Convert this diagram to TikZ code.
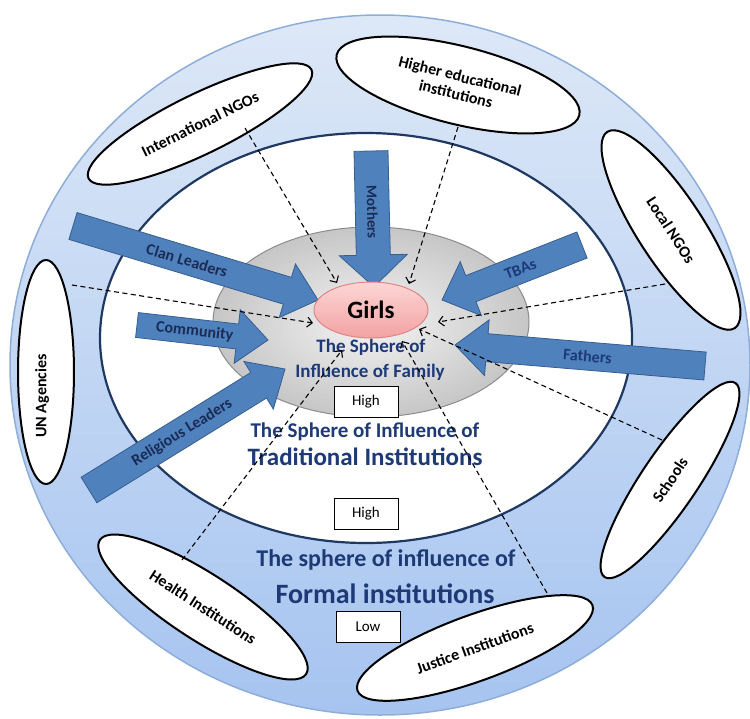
\documentclass[tikz,border=0pt]{standalone}
\usepackage{fontspec}
\setmainfont{Carlito}
\usetikzlibrary{calc,shapes.geometric,arrows.meta}
\definecolor{ringtop}{HTML}{DDE8F7}
\definecolor{ringbot}{HTML}{A6C4F0}
\definecolor{ringline}{HTML}{8FADD9}
\definecolor{tradline}{HTML}{1F3861}
\definecolor{famin}{HTML}{F4F4F4}
\definecolor{famout}{HTML}{C6C6C6}
\definecolor{famline}{HTML}{8C8C8C}
\definecolor{arrfill}{HTML}{4F81BD}
\definecolor{arrline}{HTML}{375E8F}
\definecolor{navy}{HTML}{1D3A76}
\definecolor{darknavy}{HTML}{1A2C55}
\definecolor{girltop}{HTML}{FCD6D6}
\definecolor{girlbot}{HTML}{F3A2A2}
\definecolor{girlline}{HTML}{E08585}
\newcommand\mkarrow[5]{%
  \coordinate (ba-B) at ($(#2)!#5pt!(#1)$);
  \draw[blk] ($(#1)!#3pt!90:(#2)$) -- ($(ba-B)!#3pt!90:(#2)$) -- ($(ba-B)!#4pt!90:(#2)$) -- (#2)
     -- ($(ba-B)!#4pt!-90:(#2)$) -- ($(ba-B)!#3pt!-90:(#2)$) -- ($(#1)!#3pt!-90:(#2)$) -- cycle;}
\tikzset{
  sat/.style={ellipse, draw=black, line width=2pt, fill=white, inner sep=0pt,
    font=\fontsize{16}{18}\selectfont\bfseries, text=black, align=center},
  blk/.style={fill=arrfill, draw=arrline, line width=0.8pt, line join=miter},
  lbl/.style={font=\fontsize{16}{18}\selectfont\bfseries, text=darknavy, inner sep=0pt},
  lblb/.style={font=\fontsize{16}{18}\selectfont\bfseries, text=navy, inner sep=0pt},
  dl/.style={line width=1.1pt, dash pattern=on 5pt off 3.5pt, -{Straight Barb[length=5pt,width=10pt]}},
  hbox/.style={draw=black, line width=1pt, fill=white, minimum width=64pt, minimum height=31pt,
    inner sep=0pt, font=\fontsize{15}{18}\selectfont},
  ctext/.style={text=navy, inner sep=0pt, font=\bfseries}
}
\begin{document}
\begin{tikzpicture}[x=1pt,y=-1pt]
\useasboundingbox (0,0) rectangle (750,718);
% spheres
\node[ellipse, minimum width=740pt, minimum height=700pt, top color=ringtop, bottom color=ringbot,
  draw=ringline, line width=1.5pt] (ring) at (380,365) {};
\node[ellipse, minimum width=532pt, minimum height=410pt, fill=white, draw=tradline, line width=2.2pt] (trad) at (366,338) {};
\node[ellipse, minimum width=316pt, minimum height=190pt, inner color=famin, outer color=famout,
  draw=famline, line width=1pt] (fam) at (371,322) {};
% satellites
\node[sat, minimum width=248pt, minimum height=60pt, rotate=26] (intl) at (200,124) {International NGOs};
\node[sat, minimum width=250pt, minimum height=78pt, rotate=-14] (higher) at (458,85) {Higher educational\\institutions};
\node[sat, minimum width=234pt, minimum height=66pt, rotate=-57] (local) at (671,230) {Local NGOs};
\node[sat, minimum width=224pt, minimum height=56pt, rotate=90] (un) at (46,372) {};
\node[font=\fontsize{16}{18}\selectfont\bfseries, rotate=90, inner sep=0pt] (untext) at (42,396) {UN Agencies};
\node[sat, minimum width=234pt, minimum height=56pt, rotate=56] (schools) at (670,480) {Schools};
\node[sat, minimum width=250pt, minimum height=66pt, rotate=20] (justice) at (475,648) {Justice Institutions};
\node[sat, minimum width=246pt, minimum height=66pt, rotate=-33] (health) at (203,607) {Health Institutions};
% centre texts
\node[ctext, font=\fontsize{19}{22}\selectfont\bfseries] (fam1) at (371,347) {The Sphere of};
\node[ctext, font=\fontsize{19}{22}\selectfont\bfseries] (fam2) at (370,372) {Influence of Family};
\node[hbox] (high1) at (366,402) {High};
\node[ctext, font=\fontsize{21}{24}\selectfont\bfseries] (trad1) at (365,432) {The Sphere of Influence of};
\node[ctext, font=\fontsize{25}{28}\selectfont\bfseries] (trad2) at (365,457) {Traditional Institutions};
\node[hbox] (high2) at (366,514) {High};
\node[ctext, font=\fontsize{24}{27}\selectfont\bfseries] (form1) at (386,560) {The sphere of influence of};
\node[ctext, font=\fontsize{28}{31}\selectfont\bfseries] (form2) at (385,594) {Formal institutions};
\node[hbox] (low) at (368,627) {Low};
% block arrows
\coordinate (mT) at (371,151); \coordinate (mP) at (374,287);
\coordinate (cT) at (73,226);  \coordinate (cP) at (318,300);
\coordinate (kT) at (137,325); \coordinate (kP) at (268,340);
\coordinate (rT) at (89,490);  \coordinate (rP) at (285,369);
\coordinate (tT) at (582,245); \coordinate (tP) at (442,300);
\coordinate (fT) at (705,366); \coordinate (fP) at (455,345);
\mkarrow{mT}{mP}{17}{34}{32}
\mkarrow{cT}{cP}{14}{28}{32}
\mkarrow{kT}{kP}{12.5}{27}{31}
\mkarrow{rT}{rP}{15}{28}{31}
\mkarrow{tT}{tP}{14}{29}{31}
\mkarrow{fT}{fP}{14}{28}{32}
\path (mT) -- (mP) node[lbl, pos=0.45, sloped, font=\fontsize{15}{18}\selectfont\bfseries] (mlab) {Mothers};
\path (cT) -- (cP) node[lbl, pos=0.465, sloped] (clab) {Clan Leaders};
\path (kT) -- (kP) node[lbl, pos=0.44, sloped] (klab) {Community};
\path (rT) -- (rP) node[lbl, pos=0.475, sloped] (rlab) {Religious Leaders};
\path (tT) -- (tP) node[lblb, pos=0.44, sloped] (tlab) {TBAs};
\path (fT) -- (fP) node[lblb, pos=0.47, sloped] (flab) {Fathers};
% dashed influence lines
\coordinate (s1) at (245,128); \coordinate (e1) at (337,283);
\coordinate (s2) at (458,127); \coordinate (e2) at (409,284);
\coordinate (s3) at (72,285);  \coordinate (e3) at (313,323);
\coordinate (s4) at (665,284); \coordinate (e4) at (438,322);
\coordinate (s5) at (662,440); \coordinate (e5) at (419,329);
\coordinate (s6) at (547,593); \coordinate (e6) at (402,341);
\coordinate (s7) at (182,560); \coordinate (e7) at (342,350);
\foreach \i in {1,...,7} { \draw[dl] (s\i) -- (e\i); }
% girls
\node[ellipse, minimum width=114pt, minimum height=56pt, top color=girltop, bottom color=girlbot,
  draw=girlline, line width=1pt, font=\fontsize{25}{28}\selectfont\bfseries, inner sep=0pt] (girls) at (371,310) {Girls};
\end{tikzpicture}
\end{document}
